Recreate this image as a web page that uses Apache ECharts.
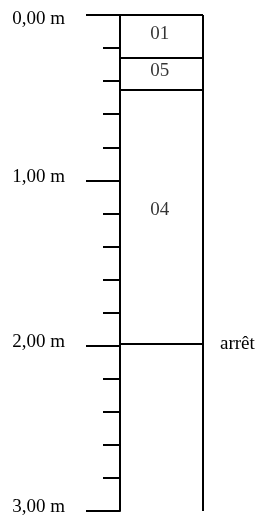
<!DOCTYPE html>
<html>
<head>
<meta charset="utf-8">
<style>
  html, body { margin: 0; padding: 0; background: #fff; }
  #chart { width: 262px; height: 517px; }
</style>
<script src="https://cdn.jsdelivr.net/npm/echarts@6/dist/echarts.min.js"></script>
</head>
<body>
<div id="chart"></div>
<script>
// depth scale (m)
const depthTicks = [0, 1, 2, 3];
const depthLabels = ["0,00 m", "1,00 m", "2,00 m", "3,00 m"];

// layers: boundaries (top of each layer), names, where the name sits
const layerTops = [0, 0.26, 0.45];
const layerNames = ["01", "05", "04"];
const layerLabelDepths = [0.115, 0.34, 1.18];

// end of the boring
const stopDepth = 1.99;
const stopLabel = "arrêt";

const FONT = "'Liberation Serif', 'Times New Roman', serif";
const INK = "#000";

const chart = echarts.init(document.getElementById("chart"), null, { renderer: "canvas" });

const boundaryLines = layerTops.map(d => ({ yAxis: d, label: { show: false } }));
boundaryLines.push({
  yAxis: stopDepth,
  label: {
    show: true,
    position: "end",
    distance: 17,
    formatter: stopLabel,
    color: INK,
    fontFamily: FONT,
    fontSize: 19,
    padding: [0, 0, 2, 0]
  }
});
// right side of the column
boundaryLines.push({ xAxis: 1, label: { show: false } });

chart.setOption({
  animation: false,
  grid: { left: 120, right: 59, top: 15, bottom: 3 },
  xAxis: { type: "value", min: 0, max: 1, show: false },
  yAxis: {
    type: "value",
    inverse: true,
    min: 0,
    max: 3,
    interval: 1,
    axisLine: { show: true, lineStyle: { color: INK, width: 2 } },
    axisTick: { show: true, length: 34, lineStyle: { color: INK, width: 2 } },
    minorTick: { show: true, splitNumber: 5, length: 17, lineStyle: { color: INK, width: 2 } },
    splitLine: { show: false },
    minorSplitLine: { show: false },
    axisLabel: {
      margin: 55,
      color: INK,
      fontFamily: FONT,
      fontSize: 19,
      formatter: v => {
        const i = depthTicks.indexOf(v);
        const txt = i >= 0 ? depthLabels[i] : "";
        return v === 0 ? "{top|" + txt + "}" : "{low|" + txt + "}";
      },
      rich: {
        top: { fontFamily: FONT, fontSize: 19, color: INK, padding: [8, 0, 0, 0] },
        low: { fontFamily: FONT, fontSize: 19, color: INK, padding: [0, 0, 7, 0] }
      }
    }
  },
  series: [
    {
      type: "scatter",
      symbolSize: 0,
      silent: true,
      data: layerNames.map((n, i) => ({ name: n, value: [0.48, layerLabelDepths[i]] })),
      label: {
        show: true,
        position: "inside",
        formatter: p => p.name,
        color: INK,
        fontFamily: FONT,
        fontSize: 19
      },
      markLine: {
        silent: true,
        symbol: "none",
        lineStyle: { color: INK, width: 2, type: "solid" },
        emphasis: { disabled: true },
        data: boundaryLines
      }
    }
  ]
});
</script>
</body>
</html>
